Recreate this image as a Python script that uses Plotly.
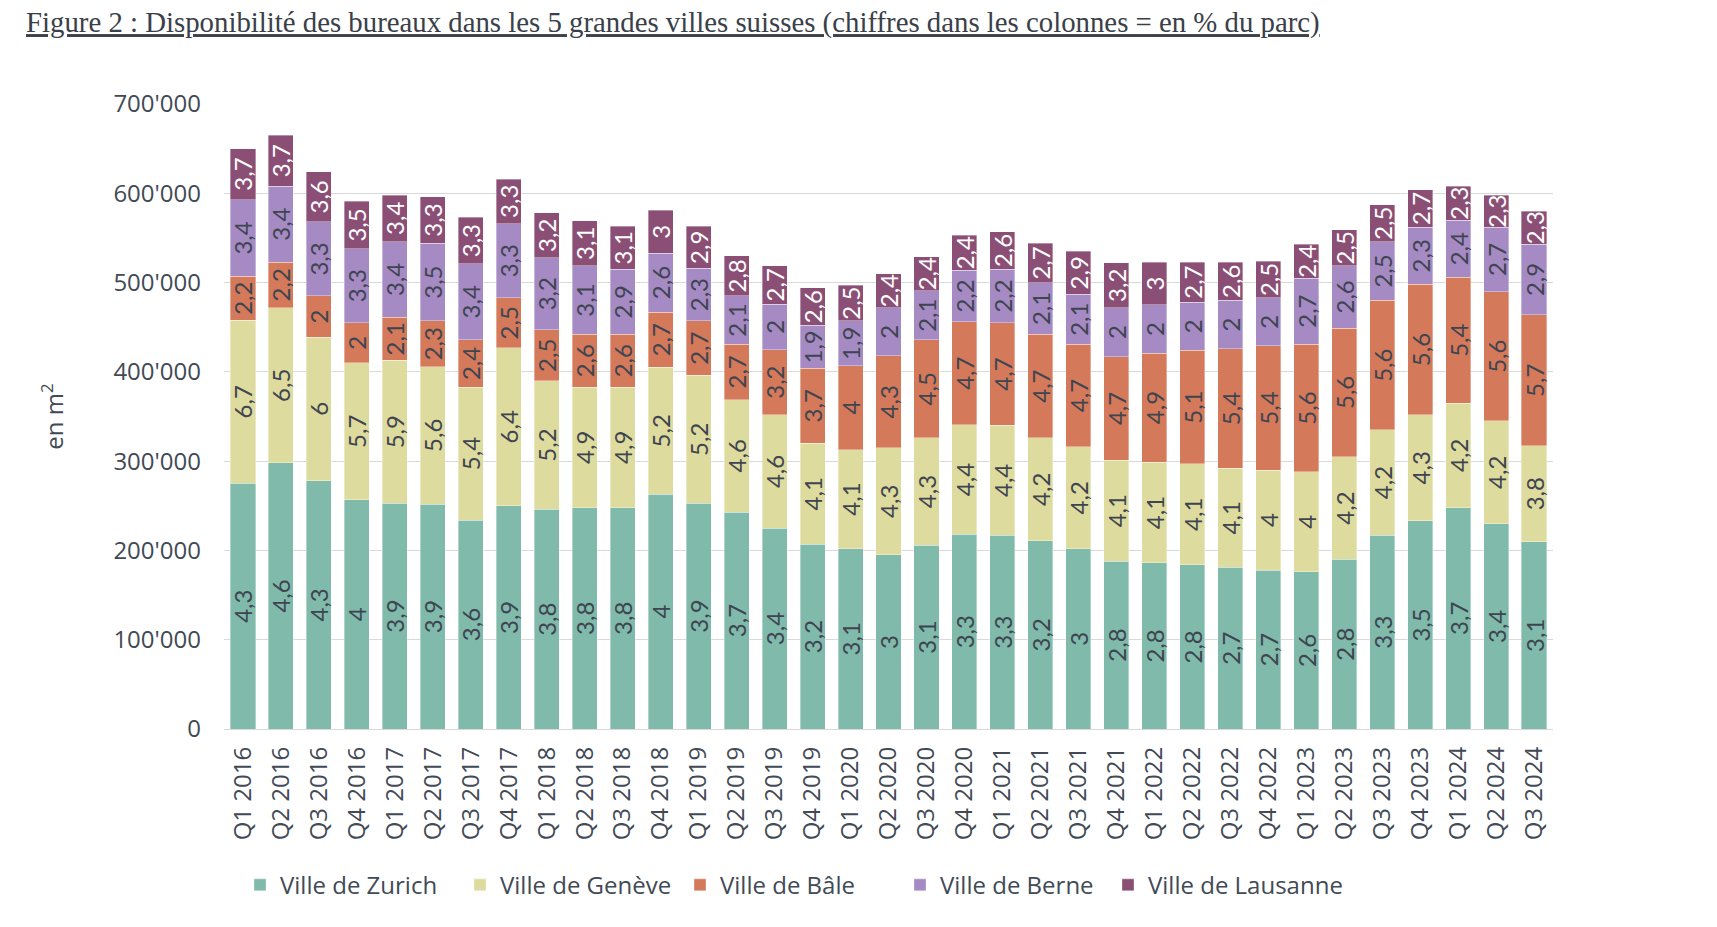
import plotly.graph_objects as go

quarters = ["Q1 2016", "Q2 2016", "Q3 2016", "Q4 2016", "Q1 2017", "Q2 2017", "Q3 2017", "Q4 2017",
            "Q1 2018", "Q2 2018", "Q3 2018", "Q4 2018", "Q1 2019", "Q2 2019", "Q3 2019", "Q4 2019",
            "Q1 2020", "Q2 2020", "Q3 2020", "Q4 2020", "Q1 2021", "Q2 2021", "Q3 2021", "Q4 2021",
            "Q1 2022", "Q2 2022", "Q3 2022", "Q4 2022", "Q1 2023", "Q2 2023", "Q3 2023", "Q4 2023",
            "Q1 2024", "Q2 2024", "Q3 2024"]

# surfaces disponibles (m2)
zurich_m2 = [275000, 298000, 278000, 257000, 253000, 252000, 234000, 250000, 246000, 248000, 248000, 263000,
             253000, 243000, 225000, 207000, 202000, 195000, 206000, 218000, 217000, 211000, 202000, 188000,
             186000, 184000, 181000, 178000, 176000, 190000, 217000, 233000, 248000, 230000, 210000]
geneve_m2 = [183000, 174000, 161000, 153000, 160000, 154000, 149000, 177000, 144000, 135000, 135000, 142000,
             143000, 126000, 127000, 113000, 111000, 120000, 120000, 123000, 123000, 115000, 114000, 113000,
             113000, 113000, 111000, 112000, 112000, 115000, 118000, 119000, 117000, 115000, 107000]
bale_m2 = [49000, 51000, 46000, 45000, 48000, 51000, 53000, 56000, 57000, 59000, 59000, 62000,
           61000, 62000, 73000, 84000, 94000, 103000, 110000, 115000, 115000, 116000, 115000, 116000,
           122000, 127000, 134000, 139000, 143000, 144000, 145000, 146000, 141000, 145000, 147000]
berne_m2 = [86000, 85000, 83000, 83000, 85000, 87000, 85000, 83000, 81000, 77000, 73000, 66000,
            59000, 54000, 51000, 48000, 50000, 54000, 55000, 58000, 60000, 58000, 56000, 55000,
            54000, 54000, 54000, 54000, 74000, 70000, 66000, 64000, 64000, 72000, 79000]
lausanne_m2 = [57000, 57000, 56000, 53000, 52000, 52000, 52000, 50000, 50000, 50000, 48000, 48000,
               47000, 45000, 43000, 42000, 40000, 38000, 38000, 39000, 42000, 44000, 48000, 50000,
               48000, 45000, 43000, 41000, 38000, 40000, 41000, 42000, 38000, 36000, 37000]

# en % du parc
zurich_pct = [4.3, 4.6, 4.3, 4, 3.9, 3.9, 3.6, 3.9, 3.8, 3.8, 3.8, 4, 3.9, 3.7, 3.4, 3.2, 3.1, 3,
              3.1, 3.3, 3.3, 3.2, 3, 2.8, 2.8, 2.8, 2.7, 2.7, 2.6, 2.8, 3.3, 3.5, 3.7, 3.4, 3.1]
geneve_pct = [6.7, 6.5, 6, 5.7, 5.9, 5.6, 5.4, 6.4, 5.2, 4.9, 4.9, 5.2, 5.2, 4.6, 4.6, 4.1, 4.1, 4.3,
              4.3, 4.4, 4.4, 4.2, 4.2, 4.1, 4.1, 4.1, 4.1, 4, 4, 4.2, 4.2, 4.3, 4.2, 4.2, 3.8]
bale_pct = [2.2, 2.2, 2, 2, 2.1, 2.3, 2.4, 2.5, 2.5, 2.6, 2.6, 2.7, 2.7, 2.7, 3.2, 3.7, 4, 4.3,
            4.5, 4.7, 4.7, 4.7, 4.7, 4.7, 4.9, 5.1, 5.4, 5.4, 5.6, 5.6, 5.6, 5.6, 5.4, 5.6, 5.7]
berne_pct = [3.4, 3.4, 3.3, 3.3, 3.4, 3.5, 3.4, 3.3, 3.2, 3.1, 2.9, 2.6, 2.3, 2.1, 2, 1.9, 1.9, 2,
             2.1, 2.2, 2.2, 2.1, 2.1, 2, 2, 2, 2, 2, 2.7, 2.6, 2.5, 2.3, 2.4, 2.7, 2.9]
lausanne_pct = [3.7, 3.7, 3.6, 3.5, 3.4, 3.3, 3.3, 3.3, 3.2, 3.1, 3.1, 3, 2.9, 2.8, 2.7, 2.6, 2.5, 2.4,
                2.4, 2.4, 2.6, 2.7, 2.9, 3.2, 3, 2.7, 2.6, 2.5, 2.4, 2.5, 2.5, 2.7, 2.3, 2.3, 2.3]

y_tickvals = [0, 100000, 200000, 300000, 400000, 500000, 600000, 700000]
y_ticktext = ["0", "100'000", "200'000", "300'000", "400'000", "500'000", "600'000", "700'000"]

LABEL_DARK = "#3E4550"
TEXT = "#414A55"

series = [
    ("Ville de Zurich", zurich_m2, zurich_pct, "#80BAAB", LABEL_DARK, "legend"),
    ("Ville de Genève", geneve_m2, geneve_pct, "#DEDB9E", LABEL_DARK, "legend"),
    ("Ville de Bâle", bale_m2, bale_pct, "#D4795A", LABEL_DARK, "legend"),
    ("Ville de Berne", berne_m2, berne_pct, "#A58AC4", LABEL_DARK, "legend"),
    ("Ville de Lausanne", lausanne_m2, lausanne_pct, "#8B4F76", "#FFFFFF", "legend2"),
]


def fmt(v):
    if float(v).is_integer():
        return str(int(v))
    return ("%g" % v).replace(".", ",")


fig = go.Figure()
for name, vals, pcts, color, tcol, lg in series:
    fig.add_trace(go.Bar(
        name=name, x=quarters, y=vals,
        text=[fmt(p) for p in pcts],
        textposition="inside", insidetextanchor="middle", textangle=-90,
        textfont=dict(family="Lato", size=24, color=tcol),
        marker=dict(color=color, line=dict(color="rgba(255,255,255,0.6)", width=0.6)),
        hoverinfo="x+y+name",
        legend=lg,
    ))

legend_font = dict(family="Open Sans", size=24, color=TEXT)

fig.update_layout(
    barmode="stack",
    bargap=0.34,
    width=1717, height=927,
    margin=dict(l=224, r=164, t=104, b=198),
    paper_bgcolor="white", plot_bgcolor="white",
    uniformtext=dict(minsize=24, mode="show"),
    title=dict(
        text="<u>Figure 2 : Disponibilité des bureaux dans les 5 grandes villes suisses (chiffres dans les colonnes = en % du parc)</u>",
        font=dict(family="Liberation Serif", size=28.8, color="#3A4049"),
        x=26 / 1717, xanchor="left", xref="container",
        y=1 - 22 / 927, yanchor="middle", yref="container",
    ),
    xaxis=dict(
        tickangle=-90,
        tickfont=dict(family="Open Sans", size=24, color=TEXT),
        showgrid=False, showline=False, ticks="",
        ticklabelstandoff=12,
    ),
    yaxis=dict(
        range=[0, 700000],
        tickvals=y_tickvals, ticktext=y_ticktext,
        tickfont=dict(family="Open Sans", size=24, color=TEXT),
        showgrid=True, gridcolor="#D9D9D9", gridwidth=1,
        zeroline=True, zerolinecolor="#D9D9D9", zerolinewidth=1,
        showline=False, ticks="", ticklen=0,
        ticklabelstandoff=22,
        title=dict(text="en m<sup>2</sup>", font=dict(family="Open Sans", size=24, color=TEXT), standoff=42),
    ),
    legend=dict(
        orientation="h", x=16 / 1329, xanchor="left", y=-0.25, yanchor="middle",
        font=legend_font, traceorder="normal",
        entrywidth=175, entrywidthmode="pixels",
    ),
    legend2=dict(
        orientation="h", x=884 / 1329, xanchor="left", y=-0.25, yanchor="middle",
        font=legend_font, traceorder="normal",
    ),
    showlegend=True,
)

fig.write_html("out.html")
